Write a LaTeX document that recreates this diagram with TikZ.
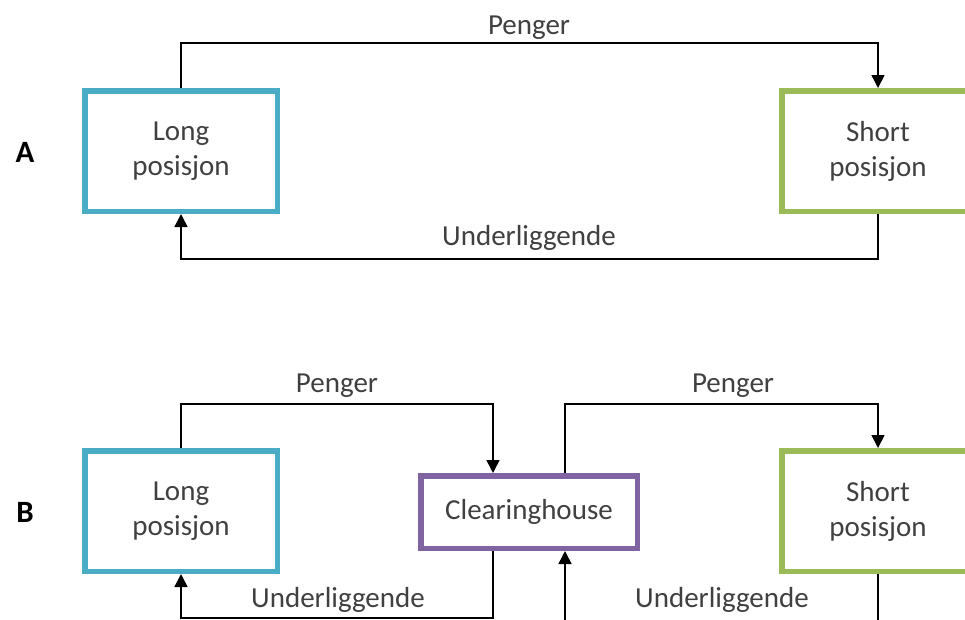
\documentclass[tikz,border=0pt]{standalone}
\usepackage{fontspec}
\setmainfont{Carlito}
\usetikzlibrary{arrows.meta,calc}
\definecolor{longc}{HTML}{4BACC6}
\definecolor{shortc}{HTML}{9BBB59}
\definecolor{clearc}{HTML}{8064A2}
\definecolor{txt}{HTML}{404040}
\begin{document}
\begin{tikzpicture}[x=1pt,y=-1pt,
  box/.style={draw, line width=5.5pt, fill=white, minimum width=192.5pt, minimum height=120.5pt,
              inner sep=0pt, align=center, text=txt, font=\fontsize{29}{35}\selectfont},
  cbox/.style={box, minimum width=216.5pt, minimum height=72.5pt},
  lab/.style={text=txt, font=\fontsize{29}{35}\selectfont, inner sep=0pt, anchor=base},
  sect/.style={font=\bfseries\fontsize{31}{37}\selectfont, inner sep=0pt},
  conn/.style={draw=black, line width=1.6pt, -{Triangle[width=13pt,length=13pt]}}]
\useasboundingbox (0,0) rectangle (965,619);
\clip (0,0) rectangle (965,619);
\fill[white] (0,0) rectangle (965,619);

% ---------- A ----------
\node[sect] (labA) at (25,152) {A};
\node[box, draw=longc] (longA) at (181,151) {Long\\posisjon};
\node[box, draw=shortc] (shortA) at (878,151) {Short\\posisjon};
\coordinate (pA) at (529,43);
\coordinate (uA) at (529,259);
\draw[conn] (longA.north) |- (pA) -| (shortA.north);
\draw[conn] (shortA.south) |- (uA) -| (longA.south);
\node[lab] (tpA) at (529,34) {Penger};
\node[lab] (tuA) at (529,245) {Underliggende};

% ---------- B ----------
\node[sect] (labB) at (25,512) {B};
\node[box, draw=longc] (longB) at (181,511) {Long\\posisjon};
\node[cbox, draw=clearc] (clear) at (529,512) {Clearinghouse};
\node[box, draw=shortc] (shortB) at (878,511) {Short\\posisjon};
\coordinate (c1) at ($(clear.north)+(-36,0)$);
\coordinate (c2) at ($(clear.north)+(36,0)$);
\coordinate (c3) at ($(clear.south)+(-36,0)$);
\coordinate (c4) at ($(clear.south)+(36,0)$);
\coordinate (pB1) at (337,404);
\coordinate (pB2) at (733,404);
\coordinate (uB1) at (337,618);
\coordinate (uB2) at (722,622);
\draw[conn] (longB.north) |- (pB1) -| (c1);
\draw[conn] (c2) |- (pB2) -| (shortB.north);
\draw[conn] (c3) |- (uB1) -| (longB.south);
\draw[conn] (shortB.south) |- (uB2) -| (c4);
\node[lab] (tpB1) at (337,392) {Penger};
\node[lab] (tpB2) at (733,392) {Penger};
\node[lab] (tuB1) at (338,607) {Underliggende};
\node[lab] (tuB2) at (722,607) {Underliggende};
\end{tikzpicture}
\end{document}
